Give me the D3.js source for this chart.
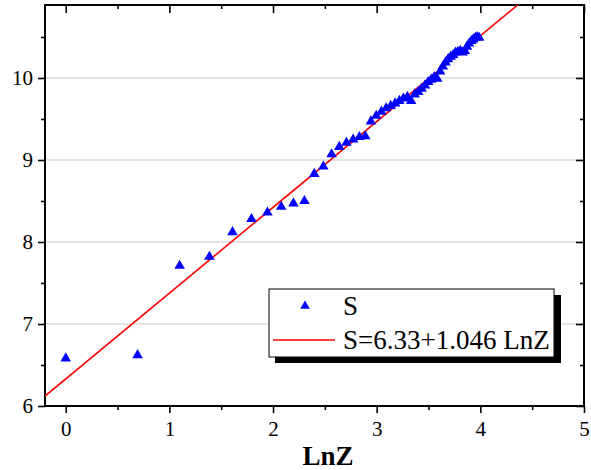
<!DOCTYPE html>
<html>
<head>
<meta charset="utf-8">
<script src="https://cdn.jsdelivr.net/npm/d3@7"></script>
<style>
  body { margin: 0; background: #fff; }
  text { font-family: "Liberation Serif", "Times New Roman", serif; }
</style>
</head>
<body>
<div id="chart"></div>
<script>
// data
var lnZ = [0, 0.693, 1.099, 1.386, 1.609, 1.792, 1.946, 2.079, 2.197, 2.303,
  2.398, 2.485, 2.565, 2.639, 2.708, 2.773, 2.833, 2.890, 2.944, 2.996,
  3.045, 3.091, 3.135, 3.178, 3.219, 3.258, 3.296, 3.332, 3.367, 3.401,
  3.434, 3.466, 3.497, 3.526, 3.555, 3.584, 3.611, 3.638, 3.664, 3.689,
  3.714, 3.738, 3.761, 3.784, 3.807, 3.829, 3.850, 3.871, 3.892, 3.912,
  3.932, 3.951, 3.970, 3.989];
var S = [6.58, 6.62, 7.71, 7.82, 8.12, 8.28, 8.36, 8.43, 8.47, 8.50,
  8.83, 8.92, 9.07, 9.16, 9.21, 9.25, 9.28, 9.29, 9.47, 9.54,
  9.59, 9.63, 9.66, 9.69, 9.72, 9.75, 9.77, 9.72, 9.80, 9.83,
  9.87, 9.91, 9.95, 9.98, 10.01, 9.99, 10.08, 10.14, 10.19, 10.23,
  10.26, 10.28, 10.31, 10.32, 10.33, 10.31, 10.33, 10.38, 10.42, 10.45,
  10.47, 10.49, 10.50, 10.49];
var fitA = 6.33, fitB = 1.046;
var xTicks = [0, 1, 2, 3, 4, 5];
var yTicks = [6, 7, 8, 9, 10];
var legendLabels = ["S", "S=6.33+1.046 LnZ"];

var width = 591, height = 470;
var mLeft = 45, mRight = 584, mTop = 5, mBottom = 406;

var x = d3.scaleLinear().domain([-0.2, 5]).range([mLeft, mRight]);
var y = d3.scaleLinear().domain([6, 10.89]).range([mBottom, mTop]);

var svg = d3.select("#chart").append("svg")
    .attr("width", width)
    .attr("height", height);

// grid lines
svg.append("g")
  .selectAll("line")
  .data(yTicks.filter(function(d) { return d > 6; }))
  .enter().append("line")
    .attr("x1", mLeft).attr("x2", mRight)
    .attr("y1", function(d) { return y(d); })
    .attr("y2", function(d) { return y(d); })
    .attr("stroke", "#c8c8c8")
    .attr("stroke-width", 1);

var xMinor = [-0.5, 0.5, 1.5, 2.5, 3.5, 4.5].filter(function(d) { return d > -0.2; });
var yMinor = [6.5, 7.5, 8.5, 9.5, 10.5];

function styleAxis(g) {
  g.select(".domain").remove();
  g.selectAll("line").attr("stroke", "#000").attr("stroke-width", 1.6);
  g.selectAll("text").attr("font-size", "21px").attr("fill", "#000")
    .attr("font-family", "Liberation Serif, Times New Roman, serif");
}

// major and minor ticks
svg.append("g")
  .attr("transform", "translate(0," + mBottom + ")")
  .call(d3.axisBottom(x).tickValues(xTicks).tickSize(7).tickPadding(8).tickFormat(d3.format("d")))
  .call(styleAxis);
svg.append("g")
  .attr("transform", "translate(0," + mBottom + ")")
  .call(d3.axisBottom(x).tickValues(xMinor).tickSize(4).tickFormat(""))
  .call(styleAxis);
svg.append("g")
  .attr("transform", "translate(" + mLeft + ",0)")
  .call(d3.axisLeft(y).tickValues(yTicks).tickSize(7).tickPadding(5).tickFormat(d3.format("d")))
  .call(styleAxis);
svg.append("g")
  .attr("transform", "translate(" + mLeft + ",0)")
  .call(d3.axisLeft(y).tickValues(yMinor).tickSize(4).tickFormat(""))
  .call(styleAxis);
// top and right: inward ticks
svg.append("g")
  .attr("transform", "translate(0," + mTop + ")")
  .call(d3.axisTop(x).tickValues(xTicks).tickSize(-8).tickFormat(""))
  .call(styleAxis);
svg.append("g")
  .attr("transform", "translate(0," + mTop + ")")
  .call(d3.axisTop(x).tickValues(xMinor).tickSize(-4).tickFormat(""))
  .call(styleAxis);
svg.append("g")
  .attr("transform", "translate(" + mRight + ",0)")
  .call(d3.axisRight(y).tickValues(yTicks).tickSize(-8).tickFormat(""))
  .call(styleAxis);
svg.append("g")
  .attr("transform", "translate(" + mRight + ",0)")
  .call(d3.axisRight(y).tickValues(yMinor).tickSize(-4).tickFormat(""))
  .call(styleAxis);

// frame
svg.append("rect")
  .attr("x", mLeft).attr("y", mTop)
  .attr("width", mRight - mLeft).attr("height", mBottom - mTop)
  .attr("fill", "none")
  .attr("stroke", "#000")
  .attr("stroke-width", 2);

// clip for fit line
svg.append("clipPath").attr("id", "clip")
  .append("rect")
  .attr("x", mLeft).attr("y", mTop)
  .attr("width", mRight - mLeft).attr("height", mBottom - mTop);

var x0 = -0.2, x1 = 5;
svg.append("line")
  .attr("clip-path", "url(#clip)")
  .attr("x1", x(x0)).attr("y1", y(fitA + fitB * x0))
  .attr("x2", x(x1)).attr("y2", y(fitA + fitB * x1))
  .attr("stroke", "#ff0000")
  .attr("stroke-width", 1.6);

// points
var tri = d3.symbol().type(d3.symbolTriangle).size(48);
svg.append("g")
  .selectAll("path")
  .data(lnZ.map(function(d, i) { return [d, S[i]]; }))
  .enter().append("path")
    .attr("d", tri)
    .attr("transform", function(d) { return "translate(" + x(d[0]) + "," + y(d[1]) + ")"; })
    .attr("fill", "#0000ff");

// axis title
svg.append("text")
  .attr("x", 328).attr("y", 465)
  .attr("text-anchor", "middle")
  .attr("font-size", "27px")
  .attr("font-weight", "bold")
  .text("LnZ");

// legend
var lg = svg.append("g");
lg.append("rect")
  .attr("x", 275).attr("y", 295).attr("width", 286).attr("height", 68)
  .attr("fill", "#000");
lg.append("rect")
  .attr("x", 269).attr("y", 289).attr("width", 285).attr("height", 68)
  .attr("fill", "#fff").attr("stroke", "#000").attr("stroke-width", 1);
lg.append("path")
  .attr("d", d3.symbol().type(d3.symbolTriangle).size(40))
  .attr("transform", "translate(305,306)")
  .attr("fill", "#0000ff");
lg.append("line")
  .attr("x1", 273).attr("x2", 335).attr("y1", 340).attr("y2", 340)
  .attr("stroke", "#ff0000").attr("stroke-width", 1.6);
lg.selectAll("text.lab")
  .data(legendLabels)
  .enter().append("text")
    .attr("class", "lab")
    .attr("x", 343)
    .attr("y", function(d, i) { return 315 + i * 34; })
    .attr("font-size", "27px")
    .text(function(d) { return d; });
</script>
</body>
</html>
